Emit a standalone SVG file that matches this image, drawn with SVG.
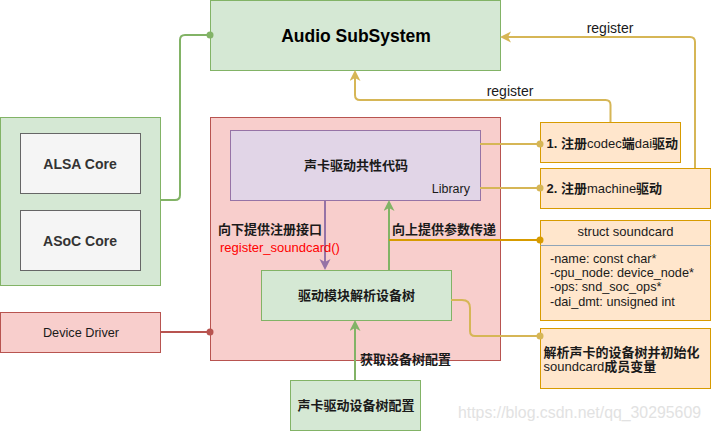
<svg xmlns="http://www.w3.org/2000/svg" width="711" height="431" viewBox="0 0 711 431">
<defs>
<style>
.t{font-family:"Liberation Sans","Noto Sans CJK SC",sans-serif;}
.cn{font-family:"Liberation Sans","Noto Sans CJK SC",sans-serif;font-size:13px;font-weight:bold;fill:#1a1a1a;}
.n{font-weight:normal;}
.g{fill:#d5e8d4;stroke:#82b366;stroke-width:1;}
.r{fill:#f8cecc;stroke:#b85450;stroke-width:1;}
.p{fill:#e1d5e7;stroke:#9673a6;stroke-width:1;}
.gr{fill:#f5f5f5;stroke:#666666;stroke-width:1;}
.o{fill:#ffe6cc;stroke:#d79b00;stroke-width:1;}
.ln{fill:none;stroke-width:2;}
</style>
<marker id="aY" markerUnits="userSpaceOnUse" markerWidth="12" markerHeight="12" refX="8" refY="5.5" orient="auto"><path d="M0,0 L11,5.5 L0,11 L3,5.5 Z" fill="#d6b656"/></marker>
<marker id="aG" markerUnits="userSpaceOnUse" markerWidth="12" markerHeight="12" refX="8" refY="5.5" orient="auto"><path d="M0,0 L11,5.5 L0,11 L3,5.5 Z" fill="#82b366"/></marker>
<marker id="aP" markerUnits="userSpaceOnUse" markerWidth="12" markerHeight="12" refX="8" refY="5.5" orient="auto"><path d="M0,0 L11,5.5 L0,11 L3,5.5 Z" fill="#9673a6"/></marker>
</defs>
<rect width="711" height="431" fill="#ffffff"/>

<g id="audio-subsystem">
<rect class="g" x="210.5" y="0.5" width="290" height="70"/>
<text class="t" x="356" y="42" font-size="17.5" font-weight="bold" text-anchor="middle" fill="#000">Audio SubSystem</text>
</g>

<g id="core-group">
<rect class="g" x="0.5" y="117.5" width="160" height="168"/>
</g>
<g id="alsa-core">
<rect class="gr" x="20.5" y="133.5" width="120" height="60"/>
<text class="t" x="80" y="169" font-size="14" font-weight="bold" text-anchor="middle" fill="#333333">ALSA Core</text>
</g>
<g id="asoc-core">
<rect class="gr" x="20.5" y="210.5" width="120" height="60"/>
<text class="t" x="80" y="246" font-size="14" font-weight="bold" text-anchor="middle" fill="#333333">ASoC Core</text>
</g>

<g id="device-driver">
<rect class="r" x="0.5" y="312.5" width="160" height="40"/>
<text class="t" x="81" y="337" font-size="12.7" text-anchor="middle" fill="#1a1a1a">Device Driver</text>
</g>

<g id="sound-driver-container">
<rect class="r" x="210.5" y="117.5" width="290" height="243"/>
</g>

<g id="common-code">
<rect class="p" x="230.5" y="130.5" width="250" height="70"/>
<text class="cn" x="356" y="170" text-anchor="middle">声卡驱动共性代码</text>
<text class="t" x="470" y="193" font-size="12.5" text-anchor="end" fill="#1a1a1a">Library</text>
</g>

<g id="parse-dt">
<rect class="g" x="261.5" y="270.5" width="190" height="50"/>
<text class="cn" x="356.5" y="300" text-anchor="middle">驱动模块解析设备树</text>
</g>

<g id="dt-config">
<rect class="g" x="290.5" y="380.5" width="130" height="50"/>
<text class="cn" x="356" y="410" text-anchor="middle">声卡驱动设备树配置</text>
</g>

<g id="codec-dai">
<rect class="o" x="540.5" y="122.5" width="140" height="40"/>
<text class="cn" x="546.5" y="148">1. 注册<tspan class="n">codec</tspan>端<tspan class="n">dai</tspan>驱动</text>
</g>

<g id="machine-driver">
<rect class="o" x="540.5" y="168.5" width="170" height="40"/>
<text class="cn" x="546.5" y="193">2. 注册<tspan class="n">machine</tspan>驱动</text>
</g>

<g id="struct-soundcard">
<rect class="o" x="540.5" y="220.5" width="170" height="100"/>
<line x1="540.5" y1="245.5" x2="710.5" y2="245.5" stroke="#8fa5b8" stroke-width="1"/>
<text class="t" x="625.5" y="236" font-size="13" text-anchor="middle" fill="#1a1a1a">struct soundcard</text>
<text class="t" font-size="12.7" fill="#1a1a1a">
<tspan x="550" y="262.5">-name: const char*</tspan>
<tspan x="550" y="277">-cpu_node: device_node*</tspan>
<tspan x="550" y="291.3">-ops: snd_soc_ops*</tspan>
<tspan x="550" y="305.7">-dai_dmt: unsigned int</tspan>
</text>
</g>

<g id="parse-note">
<rect class="o" x="540.5" y="328.5" width="170" height="60"/>
<text class="cn"><tspan x="543.5" y="357">解析声卡的设备树并初始化</tspan><tspan x="543.5" y="371" class="n">soundcard</tspan><tspan>成员变量</tspan></text>
</g>

<g id="connectors">
<path class="ln" stroke="#82b366" d="M160,200 H175 Q180,200 180,195 V40 Q180,35 185,35 H210"/>
<circle cx="210" cy="35" r="3.5" fill="#82b366"/>

<path class="ln" stroke="#b85450" d="M160,332 H210"/>
<circle cx="210" cy="332" r="3.5" fill="#b85450"/>

<path class="ln" stroke="#d6b656" d="M610.5,122 V105 Q610.5,100 605.5,100 H360 Q355,100 355,95 V73" marker-end="url(#aY)"/>
<text class="t" x="510" y="96" font-size="14" text-anchor="middle" fill="#1a1a1a">register</text>

<path class="ln" stroke="#d6b656" d="M695,168 V42 Q695,37 690,37 H503" marker-end="url(#aY)"/>
<text class="t" x="610" y="33" font-size="14" text-anchor="middle" fill="#1a1a1a">register</text>

<path class="ln" stroke="#d6b656" d="M480,144 H540"/>
<circle cx="540" cy="144" r="3.5" fill="#d6b656"/>
<path class="ln" stroke="#d6b656" d="M480,188 H540"/>
<circle cx="540" cy="188" r="3.5" fill="#d6b656"/>

<path class="ln" stroke="#9673a6" d="M325,200 V267" marker-end="url(#aP)"/>
<text class="cn" x="218" y="234">向下提供注册接口</text>
<text class="t" x="220" y="252" font-size="13" fill="#ff0000">register_soundcard()</text>

<path class="ln" stroke="#82b366" d="M389,270 V203" marker-end="url(#aG)"/>
<text class="cn" x="392" y="234">向上提供参数传递</text>

<path class="ln" stroke="#d79b00" d="M389,240 H540"/>
<circle cx="540" cy="240" r="3.5" fill="#d79b00"/>

<path class="ln" stroke="#d6b656" d="M451,300 H462 Q470,300 470,308 V331 Q470,336 475,336 H540"/>
<circle cx="540" cy="336" r="3.5" fill="#d6b656"/>

<path class="ln" stroke="#82b366" d="M355,380 V323" marker-end="url(#aG)"/>
<text class="cn" x="360" y="364">获取设备树配置</text>
</g>

<text class="t" x="458" y="418" font-size="16" fill="#e2e2e2" textLength="243" lengthAdjust="spacingAndGlyphs">https://blog.csdn.net/qq_30295609</text>
</svg>
